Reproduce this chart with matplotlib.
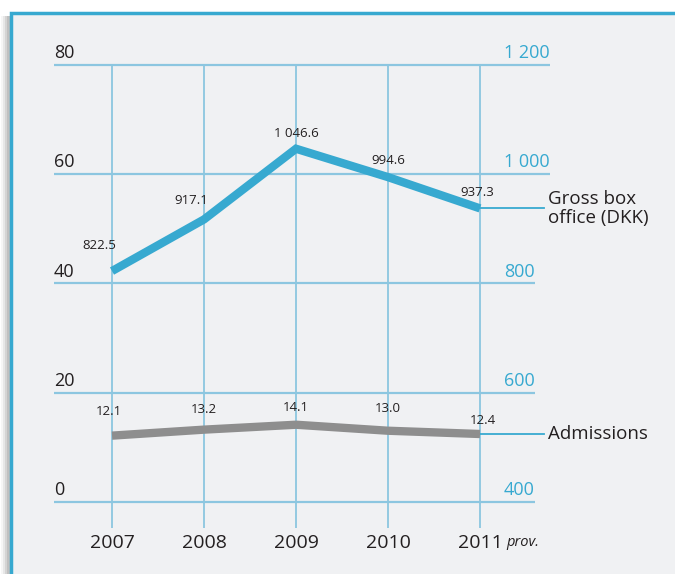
import numpy as np
import matplotlib
matplotlib.use('Agg')
import matplotlib.pyplot as plt
from matplotlib.patches import Rectangle

plt.rcParams['font.family'] = ['Open Sans', 'DejaVu Sans']

years = ['2007', '2008', '2009', '2010', '2011']
gross = [822.5, 917.1, 1046.6, 994.6, 937.3]      # DKK millions, right axis
gross_labels = ['822.5', '917.1', '1 046.6', '994.6', '937.3']
admissions = [12.1, 13.2, 14.1, 13.0, 12.4]        # millions, left axis
adm_labels = ['12.1', '13.2', '14.1', '13.0', '12.4']
left_ticks = [0, 20, 40, 60, 80]
right_ticks = ['400', '600', '800', '1 000', '1 200']

BLUE = '#37a9d0'
GRID = '#8cc6e0'
GREY = '#8e8e8e'
TXT = '#231f20'
BG = '#f0f1f3'

fig = plt.figure(figsize=(6.75, 5.74), dpi=100)
fig.patch.set_facecolor('white')

# panel with frame and a soft shadow on the left
for i, a in enumerate([0.06, 0.10, 0.14, 0.18]):
    fig.patches.append(Rectangle(((1 + 2 * i) / 675, 0), 0.99, 1 - 16 / 574,
                                 transform=fig.transFigure, facecolor='#666666',
                                 alpha=a, edgecolor='none', zorder=-2))
fig.patches.append(Rectangle((11 / 675, -0.05), 1.0, 1.05 - 13 / 574,
                             transform=fig.transFigure, facecolor=BG,
                             edgecolor=BLUE, linewidth=2.5, zorder=-1))

x = np.arange(len(years))
x0 = -58 / 92                 # left end of the grid
x1 = (550 - 112) / 92         # right edge of the axes
ax = fig.add_axes([54 / 675, 1 - 528 / 574, (550 - 54) / 675, (528 - 65) / 574])
ax.set_zorder(2)
ax.set_facecolor('none')
ax.set_xlim(x0, x1)
ax.set_ylim(-4.82, 80)
ax.axis('off')

# vertical grid
for xi in x:
    ax.plot([xi, xi], [-4.82, 80], color=GRID, lw=1.3, zorder=1,
            solid_capstyle='butt', clip_on=False)

# axis labels; each horizontal gridline runs to the end of its right label
fig.canvas.draw()
inv = ax.transData.inverted()
for v, rl in zip(left_ticks, right_ticks):
    ax.text(x0, v + 0.5, str(v), ha='left', va='bottom',
            fontsize=13, color=TXT, clip_on=False)
    rt = ax.text((504 - 112) / 92, v + 0.5, rl, ha='left', va='bottom',
                 fontsize=13, color=BLUE, clip_on=False)
    bb = rt.get_window_extent(renderer=fig.canvas.get_renderer())
    xe = inv.transform((bb.x1, 0))[0]
    ax.plot([x0, xe], [v, v], color=GRID, lw=1.6, zorder=1,
            solid_capstyle='butt', clip_on=False)

# year labels
for xi, y in zip(x, years):
    t = ax.text(xi, -5.9, y, ha='center', va='top', fontsize=14, color=TXT,
                clip_on=False)
ax.annotate('prov.', xy=(1, 0.08), xycoords=t, xytext=(3, 0),
            textcoords='offset points', ha='left', va='bottom',
            fontsize=10.5, style='italic', color=TXT)

# series (gross box office mapped onto left scale)
gross_y = (np.array(gross) - 400) / 10
ax.plot(x, gross_y, color=BLUE, lw=6, zorder=3, solid_capstyle='butt',
        solid_joinstyle='miter')
ax.plot(x, admissions, color=GREY, lw=6, zorder=3, solid_capstyle='butt',
        solid_joinstyle='miter')

g_off = [(-9, 14), (-9, 9), (0, 6), (0, 7), (-2, 7)]
for xi, yv, lab, off in zip(x, gross_y, gross_labels, g_off):
    ax.annotate(lab, (xi, yv), xytext=off, textcoords='offset points',
                ha='center', va='bottom', fontsize=9.5, color=TXT)
a_off = [(-2, 13), (0, 10), (0, 7.5), (0, 11), (2, 5)]
for xi, yv, lab, off in zip(x, admissions, adm_labels, a_off):
    ax.annotate(lab, (xi, yv), xytext=off, textcoords='offset points',
                ha='center', va='bottom', fontsize=9.5, color=TXT)

# leader lines and series names
for yv, name in [(gross_y[-1], 'Gross box\noffice (DKK)'), (admissions[-1], 'Admissions')]:
    ax.plot([x[-1], (544 - 112) / 92], [yv, yv], color=BLUE, lw=1.3, zorder=2,
            clip_on=False)
    ax.text((548 - 112) / 92, yv, name, ha='left', va='center', fontsize=13.5,
            color=TXT, linespacing=1.05, clip_on=False)

fig.savefig('out.png', dpi=100)
